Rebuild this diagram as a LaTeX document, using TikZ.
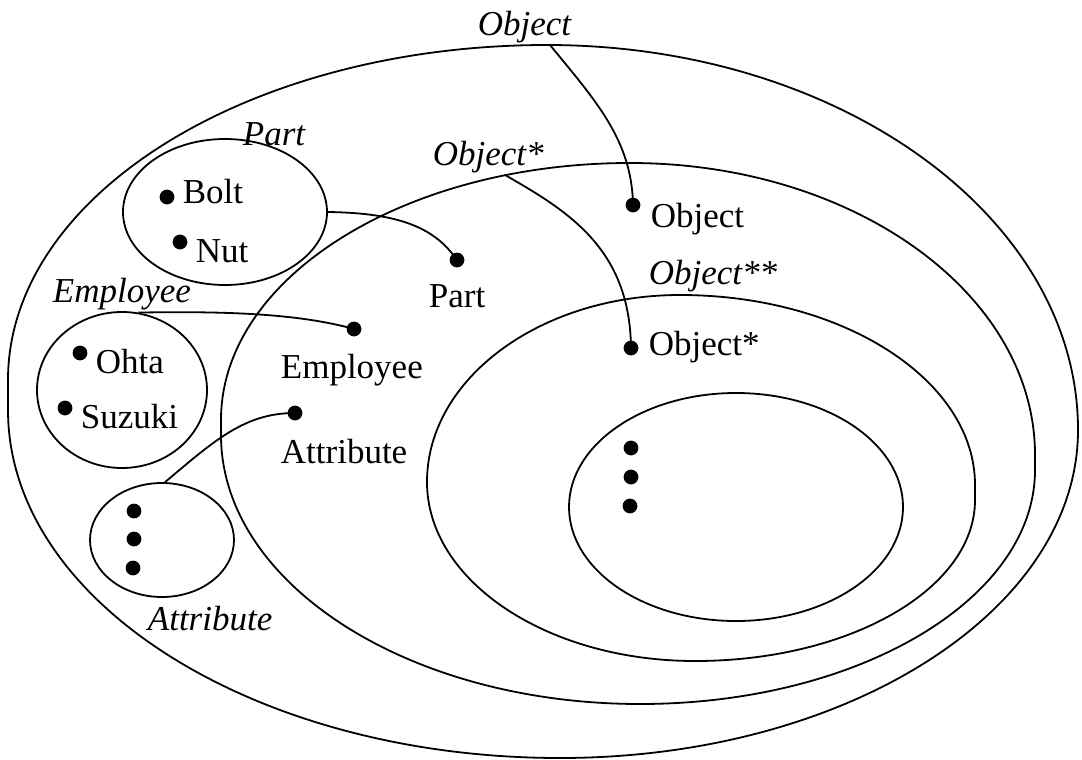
\documentclass[tikz,border=0pt]{standalone}
\usepackage{fontspec}
\setmainfont{Liberation Serif}
\usetikzlibrary{shapes.geometric}
\begin{document}
\begin{tikzpicture}[x=0.5pt,y=-0.5pt,
  line width=0.9pt,
  setshape/.style={draw, ellipse, inner sep=0pt, line width=0.9pt},
  dot/.style={circle, fill, inner sep=0pt, minimum size=7.4pt},
  txt/.style={anchor=base west, inner sep=0pt, font=\fontsize{17.5}{20}\selectfont},
  itxt/.style={anchor=base west, inner sep=0pt, font=\fontsize{17.5}{20}\selectfont\itshape}]
\useasboundingbox (0,0) rectangle (1082,760);

% outer set: Object
\draw (547,45)
  arc[start angle=90, end angle=0, x radius=265.5pt, y radius=192.5pt]
  arc[start angle=0, end angle=-90, x radius=259pt, y radius=164pt]
  arc[start angle=270, end angle=180, x radius=276pt, y radius=174pt]
  -- (8,380)
  arc[start angle=180, end angle=90, x radius=269.5pt, y radius=167.5pt]
  -- cycle;
\coordinate (objOuterTop) at (550,45);

% Object*
\draw (630,163)
  arc[start angle=90, end angle=0, x radius=202.5pt, y radius=146pt]
  -- (1035,470)
  arc[start angle=0, end angle=-90, x radius=197.5pt, y radius=117pt]
  arc[start angle=270, end angle=180, x radius=209.5pt, y radius=134.5pt]
  -- (221,420)
  arc[start angle=180, end angle=90, x radius=204.5pt, y radius=128.5pt]
  -- cycle;
\coordinate (objStarTop) at (505,175);

% Object**
\draw (680,295)
  arc[start angle=90, end angle=0, x radius=147.5pt, y radius=95pt]
  -- (975,500)
  arc[start angle=0, end angle=-90, x radius=140pt, y radius=80.5pt]
  arc[start angle=270, end angle=180, x radius=134pt, y radius=89.5pt]
  arc[start angle=180, end angle=90, x radius=126.5pt, y radius=93.5pt]
  -- cycle;

\node[setshape, minimum width=167pt, minimum height=114pt] (inner) at (736,507) {};

% small sets
\node[setshape, minimum width=102pt, minimum height=73pt] (partset) at (225,212) {};
\node[setshape, minimum width=85pt, minimum height=78pt] (empset) at (122,390) {};
\node[setshape, minimum width=72pt, minimum height=57pt] (attrset) at (162,540) {};

% set labels (italic)
\node[itxt] (lObject) at (477,35) {Object};
\node[itxt] (lObjectS) at (432,165) {Object*};
\node[itxt] (lObjectSS) at (648,284) {Object**};
\node[itxt] (lPart) at (242,145) {Part};
\node[itxt] (lEmployee) at (52,302) {Employee};
\node[itxt] (lAttribute) at (147,630) {Attribute};

% elements
\node[dot] (dBolt) at (167,197) {};
\node[txt] (tBolt) at (182,203) {Bolt};
\node[dot] (dNut) at (180,242) {};
\node[txt] (tNut) at (195,262) {Nut};
\node[dot] (dOhta) at (80,353) {};
\node[txt] (tOhta) at (95,373) {Ohta};
\node[dot] (dSuzuki) at (65,408) {};
\node[txt] (tSuzuki) at (80,428) {Suzuki};
\node[dot] (dA1) at (134,511) {};
\node[dot] (dA2) at (134,539) {};
\node[dot] (dA3) at (133,568) {};

\node[dot] (dObject) at (633,205) {};
\node[txt] (tObject) at (650,227) {Object};
\node[dot] (dObjectS) at (631,348) {};
\node[txt] (tObjectS) at (648,355) {Object*};
\node[dot] (dPart) at (457,260) {};
\node[txt] (tPart) at (428,307) {Part};
\node[dot] (dEmployee) at (354,329) {};
\node[txt] (tEmployee) at (280,378) {Employee};
\node[dot] (dAttribute) at (295,413) {};
\node[txt] (tAttribute) at (280,463) {Attribute};

\node[dot] (dI1) at (631,448) {};
\node[dot] (dI2) at (631,477) {};
\node[dot] (dI3) at (630,506) {};

% connectors
\draw (objOuterTop) .. controls (595,100) and (632,140) .. (dObject.center);
\draw (objStarTop) .. controls (570,212) and (630,250) .. (dObjectS.center);
\draw (partset.east) .. controls (400,213) and (435,228) .. (dPart.center);
\draw (empset.78) .. controls (230,311) and (300,314) .. (dEmployee.center);
\draw (attrset.87) .. controls (215,440) and (245,413) .. (dAttribute.center);
\end{tikzpicture}
\end{document}
